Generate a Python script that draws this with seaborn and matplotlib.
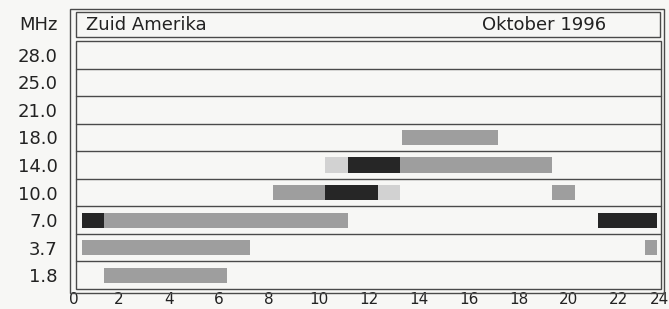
import pandas as pd
import matplotlib.pyplot as plt
import seaborn as sb
from matplotlib.patches import Rectangle

# frequency bands, bottom row first
bands = ['1.8', '3.7', '7.0', '10.0', '14.0', '18.0', '21.0', '25.0', '28.0']
hours = list(range(0, 25, 2))

# openings per band: start hour, end hour, strength (1 light, 2 medium, 3 dark)
seg_band = ['18.0', '14.0', '14.0', '14.0', '10.0', '10.0', '10.0', '10.0',
            '7.0', '7.0', '7.0', '3.7', '3.7', '1.8']
seg_start = [13.3, 10.25, 11.15, 13.25, 8.15, 10.25, 12.35, 19.3,
             0.5, 1.4, 21.15, 0.5, 23.05, 1.4]
seg_end = [17.15, 11.15, 13.25, 19.3, 10.25, 12.35, 13.25, 20.25,
           1.4, 11.15, 23.5, 7.25, 23.5, 6.3]
seg_level = [2, 1, 3, 2, 2, 3, 1, 2, 3, 2, 3, 2, 2, 2]

shades = {1: '#d2d2d2', 2: '#9e9e9e', 3: '#262626'}

df = pd.DataFrame({'band': seg_band, 'start': seg_start,
                   'end': seg_end, 'level': seg_level})
df['row'] = df['band'].map({b: i + 0.5 for i, b in enumerate(bands)})

sb.set_style('white')
plt.rcParams['font.family'] = ['DejaVu Sans']

W, H = 669, 309
fig = plt.figure(figsize=(W / 100, H / 100), dpi=100, facecolor='#f7f7f5')
# axes spans hour 0..24, rows between the grid lines
ax = fig.add_axes([69 / W, (H - 289) / H, 600 / W, 248 / H])
ax.set_facecolor('none')
for s in ax.spines.values():
    s.set_visible(False)

ax.barh(df['row'], df['end'] - df['start'], left=df['start'], height=0.55,
        color=[shades[l] for l in df['level']], linewidth=0)

ax.set_xlim(0, 24)
ax.set_ylim(0, len(bands))

lc = '#4a4a4a'
x0, x1 = 7 / 600, 592 / 600
for i in range(1, len(bands)):
    ax.axhline(i, xmin=x0, xmax=x1, color=lc, lw=1)
ax.add_patch(Rectangle((x0, 0), x1 - x0, 1, transform=ax.transAxes,
                       fill=False, ec=lc, lw=1, clip_on=False))

ax.set_xticks(hours)
ax.set_xticklabels([str(h) for h in hours])
ax.set_yticks([i + 0.5 for i in range(len(bands))])
ax.set_yticklabels(bands)
ax.tick_params(axis='x', direction='in', length=4, width=1, color=lc,
               pad=2, labelsize=11, labelcolor='#222222')
ax.tick_params(axis='y', length=0, pad=8, labelsize=13, labelcolor='#222222')
# keep the end labels inside the picture
xl = ax.get_xticklabels()
xl[0].set_ha('left')
xl[-1].set_ha('right')

# outer frame and title box
def px_rect(l, t, r, b):
    return Rectangle((l / W, 1 - b / H), (r - l) / W, (b - t) / H,
                     transform=fig.transFigure, fill=False, ec=lc, lw=1)

fig.add_artist(px_rect(70, 9, 664, 293))
fig.add_artist(px_rect(76, 12, 660, 37))

fig.text(58 / W, 1 - 25 / H, 'MHz', ha='right', va='center', fontsize=13, color='#222222')
fig.text(86 / W, 1 - 25 / H, 'Zuid Amerika', ha='left', va='center', fontsize=13, color='#222222')
fig.text(606 / W, 1 - 25 / H, 'Oktober 1996', ha='right', va='center', fontsize=13, color='#222222')

fig.savefig('out.png', dpi=100, facecolor=fig.get_facecolor())
